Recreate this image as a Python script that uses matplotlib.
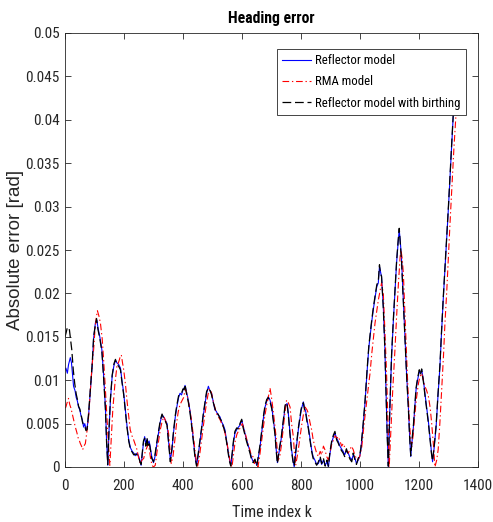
import matplotlib
matplotlib.use("Agg")
import matplotlib.pyplot as plt
from matplotlib.ticker import FuncFormatter
from matplotlib import font_manager

# ---------------- data ----------------
k_reflector = [0, 3, 8, 12, 18, 22, 26, 29, 34, 38, 42, 46, 50, 55, 59, 63, 67, 71, 75, 80,
               86, 92, 97, 103, 108, 112, 118, 125, 131, 137, 141, 145, 149, 154, 160, 166, 171, 176, 182, 188,
               193, 199, 205, 210, 216, 222, 228, 233, 238, 244, 250, 255, 258, 262, 266, 270, 274, 278, 281, 285,
               289, 294, 300, 305, 311, 317, 323, 329, 334, 340, 346, 351, 357, 362, 368, 374, 379, 385, 390, 395,
               400, 404, 407, 412, 418, 424, 429, 435, 440, 446, 451, 457, 463, 469, 475, 480, 486, 491, 497, 502,
               508, 513, 519, 525, 531, 537, 542, 548, 554, 558, 562, 567, 571, 576, 582, 588, 593, 599, 604, 610,
               615, 621, 627, 632, 638, 644, 650, 655, 661, 667, 672, 678, 684, 689, 695, 701, 706, 712, 716, 720,
               726, 730, 734, 740, 746, 750, 753, 757, 762, 768, 773, 777, 784, 791, 796, 800, 804, 808, 812, 816,
               820, 825, 830, 836, 841, 847, 853, 859, 865, 870, 876, 882, 888, 893, 898, 904, 910, 915, 921, 927,
               932, 937, 943, 948, 954, 960, 966, 972, 977, 983, 988, 994, 999, 1003, 1010, 1017, 1024, 1030, 1034, 1040,
               1045, 1051, 1057, 1062, 1066, 1070, 1073, 1079, 1084, 1088, 1092, 1096, 1101, 1107, 1113, 1119, 1124, 1130, 1133, 1137,
               1141, 1147, 1153, 1158, 1164, 1168, 1172, 1176, 1181, 1186, 1190, 1195, 1201, 1205, 1209, 1215, 1220, 1226, 1232, 1237,
               1242, 1246, 1252, 1258, 1264, 1271, 1276, 1282, 1288, 1294, 1300, 1306, 1311, 1316, 1322]
err_reflector = [0.0112, 0.0114, 0.0108, 0.0118, 0.0126, 0.0120, 0.0104, 0.0093, 0.0088, 0.0080, 0.0076, 0.0069, 0.0066, 0.0058, 0.0054, 0.0046, 0.0050, 0.0044, 0.0045, 0.0060,
                 0.0088, 0.0116, 0.0148, 0.0166, 0.0169, 0.0160, 0.0150, 0.0135, 0.0105, 0.0069, 0.0030, 0.0002, 0.0040, 0.0077, 0.0105, 0.0117, 0.0123, 0.0120, 0.0118, 0.0114,
                 0.0100, 0.0085, 0.0065, 0.0048, 0.0031, 0.0022, 0.0018, 0.0016, 0.0013, 0.0016, 0.0012, 0.0006, 0.0002, 0.0015, 0.0028, 0.0035, 0.0026, 0.0032, 0.0027, 0.0030,
                 0.0023, 0.0012, 0.0005, 0.0012, 0.0026, 0.0039, 0.0052, 0.0060, 0.0058, 0.0054, 0.0050, 0.0030, 0.0008, 0.0018, 0.0040, 0.0058, 0.0069, 0.0080, 0.0085, 0.0083,
                 0.0089, 0.0091, 0.0094, 0.0086, 0.0077, 0.0064, 0.0050, 0.0032, 0.0015, 0.0002, 0.0012, 0.0028, 0.0043, 0.0060, 0.0074, 0.0085, 0.0093, 0.0088, 0.0085, 0.0076,
                 0.0066, 0.0064, 0.0060, 0.0058, 0.0052, 0.0048, 0.0043, 0.0030, 0.0016, 0.0008, 0.0002, 0.0015, 0.0028, 0.0039, 0.0043, 0.0046, 0.0048, 0.0054, 0.0047, 0.0039,
                 0.0032, 0.0025, 0.0018, 0.0011, 0.0006, 0.0008, 0.0002, 0.0010, 0.0023, 0.0040, 0.0055, 0.0069, 0.0076, 0.0081, 0.0077, 0.0069, 0.0055, 0.0039, 0.0020, 0.0005,
                 0.0018, 0.0026, 0.0035, 0.0052, 0.0069, 0.0072, 0.0073, 0.0062, 0.0042, 0.0020, 0.0008, 0.0000, 0.0022, 0.0043, 0.0055, 0.0064, 0.0070, 0.0075, 0.0068, 0.0064,
                 0.0055, 0.0046, 0.0034, 0.0020, 0.0012, 0.0008, 0.0003, 0.0004, 0.0010, 0.0003, 0.0008, 0.0002, 0.0006, 0.0000, 0.0015, 0.0028, 0.0035, 0.0039, 0.0033, 0.0029,
                 0.0024, 0.0021, 0.0018, 0.0014, 0.0019, 0.0016, 0.0011, 0.0008, 0.0014, 0.0010, 0.0004, 0.0008, 0.0012, 0.0020, 0.0045, 0.0074, 0.0110, 0.0138, 0.0150, 0.0168,
                 0.0181, 0.0195, 0.0208, 0.0212, 0.0231, 0.0224, 0.0219, 0.0185, 0.0140, 0.0089, 0.0040, 0.0000, 0.0065, 0.0127, 0.0168, 0.0204, 0.0235, 0.0262, 0.0273, 0.0258,
                 0.0238, 0.0192, 0.0146, 0.0107, 0.0069, 0.0038, 0.0012, 0.0028, 0.0046, 0.0070, 0.0089, 0.0100, 0.0110, 0.0108, 0.0112, 0.0100, 0.0085, 0.0069, 0.0052, 0.0035,
                 0.0018, 0.0006, 0.0024, 0.0046, 0.0080, 0.0116, 0.0152, 0.0192, 0.0228, 0.0262, 0.0300, 0.0340, 0.0372, 0.0404, 0.0418]

k_rma = [0, 3, 7, 12, 16, 20, 24, 29, 35, 40, 45, 49, 52, 56, 60, 64, 69, 74, 80, 86,
         92, 97, 102, 106, 110, 115, 120, 126, 131, 136, 142, 147, 152, 157, 162, 169, 176, 183, 188, 191,
         195, 199, 205, 210, 216, 221, 227, 233, 239, 244, 250, 255, 261, 267, 272, 278, 282, 286, 290, 295,
         300, 306, 312, 318, 323, 329, 335, 340, 346, 351, 356, 360, 366, 372, 378, 384, 390, 396, 402, 408,
         413, 419, 425, 431, 437, 443, 449, 455, 461, 467, 473, 479, 485, 490, 496, 501, 507, 513, 519, 525,
         531, 537, 543, 549, 555, 560, 566, 571, 577, 583, 589, 595, 601, 607, 613, 619, 625, 631, 637, 642,
         648, 654, 659, 665, 671, 677, 683, 689, 695, 700, 706, 712, 718, 723, 728, 734, 740, 746, 751, 757,
         763, 768, 774, 778, 782, 790, 797, 803, 809, 814, 820, 825, 830, 836, 841, 847, 853, 859, 865, 870,
         876, 881, 887, 893, 899, 904, 910, 916, 921, 927, 932, 938, 943, 949, 954, 960, 966, 971, 977, 983,
         988, 992, 999, 1006, 1014, 1023, 1029, 1034, 1040, 1046, 1051, 1057, 1062, 1068, 1073, 1079, 1084, 1090, 1095, 1099,
         1105, 1111, 1118, 1124, 1130, 1136, 1139, 1143, 1147, 1152, 1158, 1163, 1167, 1171, 1175, 1180, 1184, 1191, 1198, 1203,
         1209, 1215, 1220, 1226, 1232, 1238, 1243, 1249, 1254, 1260, 1265, 1271, 1277, 1283, 1288, 1294, 1299, 1305, 1311, 1318,
         1325, 1330]
err_rma = [0.0068, 0.0069, 0.0074, 0.0079, 0.0072, 0.0068, 0.0062, 0.0055, 0.0046, 0.0040, 0.0033, 0.0030, 0.0027, 0.0024, 0.0020, 0.0024, 0.0027, 0.0040, 0.0058, 0.0088,
           0.0118, 0.0135, 0.0160, 0.0172, 0.0180, 0.0174, 0.0166, 0.0148, 0.0123, 0.0095, 0.0058, 0.0028, 0.0002, 0.0035, 0.0066, 0.0095, 0.0116, 0.0122, 0.0128, 0.0129,
           0.0120, 0.0112, 0.0095, 0.0077, 0.0058, 0.0043, 0.0036, 0.0031, 0.0025, 0.0020, 0.0010, 0.0004, 0.0008, 0.0010, 0.0018, 0.0023, 0.0026, 0.0020, 0.0010, 0.0002,
           0.0000, 0.0002, 0.0018, 0.0032, 0.0043, 0.0052, 0.0058, 0.0054, 0.0048, 0.0039, 0.0020, 0.0004, 0.0012, 0.0030, 0.0050, 0.0064, 0.0072, 0.0076, 0.0080, 0.0090,
           0.0085, 0.0074, 0.0062, 0.0048, 0.0030, 0.0012, 0.0000, 0.0010, 0.0026, 0.0042, 0.0058, 0.0072, 0.0084, 0.0090, 0.0086, 0.0078, 0.0070, 0.0062, 0.0058, 0.0055,
           0.0050, 0.0046, 0.0038, 0.0028, 0.0016, 0.0006, 0.0000, 0.0014, 0.0030, 0.0038, 0.0042, 0.0046, 0.0050, 0.0044, 0.0036, 0.0028, 0.0022, 0.0014, 0.0012, 0.0004,
           0.0008, 0.0000, 0.0010, 0.0026, 0.0042, 0.0058, 0.0070, 0.0080, 0.0091, 0.0080, 0.0064, 0.0046, 0.0026, 0.0008, 0.0012, 0.0026, 0.0045, 0.0064, 0.0077, 0.0074,
           0.0069, 0.0050, 0.0035, 0.0015, 0.0002, 0.0018, 0.0035, 0.0050, 0.0062, 0.0069, 0.0066, 0.0062, 0.0052, 0.0043, 0.0032, 0.0023, 0.0016, 0.0012, 0.0018, 0.0014,
           0.0024, 0.0020, 0.0012, 0.0008, 0.0018, 0.0026, 0.0031, 0.0036, 0.0033, 0.0035, 0.0030, 0.0024, 0.0027, 0.0022, 0.0019, 0.0016, 0.0020, 0.0024, 0.0020, 0.0013,
           0.0010, 0.0008, 0.0012, 0.0023, 0.0050, 0.0077, 0.0094, 0.0108, 0.0131, 0.0150, 0.0166, 0.0180, 0.0192, 0.0203, 0.0212, 0.0200, 0.0160, 0.0108, 0.0050, 0.0000,
           0.0045, 0.0089, 0.0132, 0.0173, 0.0210, 0.0242, 0.0250, 0.0240, 0.0223, 0.0178, 0.0127, 0.0088, 0.0054, 0.0036, 0.0023, 0.0036, 0.0054, 0.0078, 0.0096, 0.0104,
           0.0108, 0.0100, 0.0093, 0.0088, 0.0081, 0.0068, 0.0050, 0.0025, 0.0000, 0.0008, 0.0020, 0.0052, 0.0089, 0.0128, 0.0166, 0.0202, 0.0238, 0.0280, 0.0320, 0.0365,
           0.0404, 0.0422]

k_birthing = [0, 4, 8, 12, 15, 19, 23, 28, 33, 38, 42, 46, 50, 55, 59, 63, 67, 71, 75, 80,
              86, 92, 97, 103, 107, 112, 118, 125, 131, 137, 141, 145, 149, 154, 160, 166, 171, 176, 182, 188,
              193, 199, 205, 210, 216, 222, 228, 233, 238, 244, 250, 255, 258, 262, 266, 270, 274, 278, 281, 285,
              289, 294, 300, 305, 311, 317, 323, 329, 334, 340, 346, 351, 357, 362, 368, 374, 379, 385, 390, 395,
              400, 404, 407, 412, 418, 424, 429, 435, 440, 446, 451, 457, 463, 469, 475, 480, 486, 491, 497, 502,
              508, 513, 519, 525, 531, 537, 542, 548, 554, 558, 562, 567, 571, 576, 582, 588, 593, 599, 604, 610,
              615, 621, 627, 632, 638, 644, 650, 655, 661, 667, 672, 678, 684, 689, 695, 701, 706, 712, 716, 720,
              726, 730, 734, 740, 746, 750, 753, 757, 762, 768, 773, 777, 784, 791, 796, 800, 804, 808, 812, 816,
              820, 825, 830, 836, 841, 847, 853, 859, 865, 870, 876, 882, 888, 893, 898, 904, 910, 915, 921, 927,
              932, 937, 943, 948, 954, 960, 966, 972, 977, 983, 988, 994, 999, 1003, 1010, 1017, 1024, 1030, 1034, 1040,
              1045, 1051, 1057, 1062, 1066, 1070, 1073, 1079, 1084, 1088, 1092, 1096, 1101, 1107, 1113, 1119, 1124, 1130, 1133, 1137,
              1141, 1147, 1153, 1158, 1164, 1168, 1172, 1176, 1181, 1186, 1190, 1195, 1201, 1205, 1209, 1215, 1220, 1226, 1232, 1237,
              1242, 1246, 1252, 1258, 1264, 1271, 1276, 1282, 1288, 1294, 1300, 1306, 1311, 1316, 1322]
err_birthing = [0.0150, 0.0155, 0.0161, 0.0160, 0.0158, 0.0146, 0.0135, 0.0112, 0.0096, 0.0084, 0.0078, 0.0070, 0.0067, 0.0060, 0.0052, 0.0048, 0.0047, 0.0042, 0.0043, 0.0062,
                0.0090, 0.0118, 0.0150, 0.0164, 0.0171, 0.0158, 0.0148, 0.0133, 0.0102, 0.0066, 0.0028, 0.0003, 0.0042, 0.0079, 0.0106, 0.0119, 0.0124, 0.0118, 0.0116, 0.0112,
                0.0098, 0.0083, 0.0063, 0.0046, 0.0030, 0.0020, 0.0017, 0.0014, 0.0015, 0.0014, 0.0011, 0.0005, 0.0003, 0.0017, 0.0030, 0.0033, 0.0024, 0.0034, 0.0025, 0.0029,
                0.0021, 0.0010, 0.0006, 0.0014, 0.0028, 0.0041, 0.0054, 0.0061, 0.0056, 0.0053, 0.0048, 0.0028, 0.0006, 0.0020, 0.0042, 0.0060, 0.0071, 0.0082, 0.0084, 0.0085,
                0.0090, 0.0089, 0.0095, 0.0084, 0.0075, 0.0062, 0.0048, 0.0030, 0.0013, 0.0001, 0.0014, 0.0030, 0.0045, 0.0062, 0.0076, 0.0087, 0.0091, 0.0089, 0.0083, 0.0075,
                0.0068, 0.0062, 0.0061, 0.0056, 0.0053, 0.0046, 0.0041, 0.0028, 0.0014, 0.0006, 0.0001, 0.0017, 0.0030, 0.0041, 0.0045, 0.0044, 0.0050, 0.0055, 0.0045, 0.0037,
                0.0030, 0.0023, 0.0016, 0.0009, 0.0005, 0.0009, 0.0001, 0.0012, 0.0025, 0.0042, 0.0057, 0.0071, 0.0078, 0.0080, 0.0075, 0.0067, 0.0053, 0.0037, 0.0018, 0.0004,
                0.0020, 0.0028, 0.0037, 0.0054, 0.0071, 0.0074, 0.0072, 0.0060, 0.0040, 0.0018, 0.0006, 0.0001, 0.0024, 0.0045, 0.0057, 0.0066, 0.0072, 0.0074, 0.0066, 0.0062,
                0.0053, 0.0044, 0.0032, 0.0018, 0.0010, 0.0006, 0.0002, 0.0006, 0.0012, 0.0004, 0.0010, 0.0001, 0.0008, 0.0001, 0.0017, 0.0030, 0.0037, 0.0041, 0.0031, 0.0027,
                0.0022, 0.0019, 0.0016, 0.0012, 0.0021, 0.0014, 0.0009, 0.0006, 0.0016, 0.0008, 0.0003, 0.0010, 0.0014, 0.0022, 0.0047, 0.0076, 0.0112, 0.0140, 0.0152, 0.0170,
                0.0183, 0.0197, 0.0210, 0.0214, 0.0233, 0.0222, 0.0220, 0.0183, 0.0138, 0.0087, 0.0038, 0.0001, 0.0067, 0.0129, 0.0170, 0.0206, 0.0237, 0.0264, 0.0275, 0.0256,
                0.0236, 0.0190, 0.0144, 0.0105, 0.0067, 0.0036, 0.0013, 0.0030, 0.0048, 0.0072, 0.0091, 0.0102, 0.0112, 0.0106, 0.0113, 0.0098, 0.0083, 0.0067, 0.0050, 0.0033,
                0.0016, 0.0007, 0.0026, 0.0048, 0.0082, 0.0118, 0.0154, 0.0194, 0.0230, 0.0264, 0.0302, 0.0342, 0.0374, 0.0406, 0.0420]

x_ticks = [0, 200, 400, 600, 800, 1000, 1200, 1400]
y_ticks = [0, 0.005, 0.01, 0.015, 0.02, 0.025, 0.03, 0.035, 0.04, 0.045, 0.05]
series_labels = ["Reflector model", "RMA model", "Reflector model with birthing"]
title_text = "Heading error"
x_label = "Time index k"
y_label = "Absolute error [rad]"

# ---------------- fonts ----------------
installed = {f.name for f in font_manager.fontManager.ttflist}
condensed_candidates = ["Liberation Sans Narrow", "Roboto Condensed", "Arial Narrow", "Nimbus Sans Narrow"]
cond = [n for n in condensed_candidates if n in installed]
if cond:
    narrow = [cond[0], "Liberation Sans", "DejaVu Sans"]
    tick_size, leg_size, xl_size, title_size = 11, 9.2, 11.5, 11.3
else:
    narrow = ["Liberation Sans", "DejaVu Sans"]
    tick_size, leg_size, xl_size, title_size = 10, 8.6, 12, 10
regular = ["Liberation Sans", "DejaVu Sans"]

# ---------------- figure ----------------
fig = plt.figure(figsize=(4.93, 5.22), dpi=100)
ax = fig.add_axes([65 / 493, 55 / 522, 413 / 493, 434 / 522])

ax.plot(k_reflector, err_reflector, color=(0, 0, 1), lw=0.8, ls="-", label=series_labels[0])
ax.plot(k_rma, err_rma, color=(1, 0, 0), lw=0.8, ls=(0, (6, 2.5, 1.2, 2.5)), label=series_labels[1])
ax.plot(k_birthing, err_birthing, color="black", lw=0.9, ls=(0, (7, 3)), label=series_labels[2])

ax.set_xlim(0, 1400)
ax.set_ylim(0, 0.05)
ax.set_xticks(x_ticks)
ax.set_yticks(y_ticks)
ax.yaxis.set_major_formatter(FuncFormatter(lambda v, p: "%g" % round(v, 4)))

ax.tick_params(direction="in", length=4, width=0.6, top=True, right=True,
               colors="#262626", labelcolor="#262626")
ax.tick_params(axis="x", pad=9)
ax.tick_params(axis="y", pad=4)
for lab in ax.get_xticklabels() + ax.get_yticklabels():
    lab.set_fontfamily(narrow)
    lab.set_fontsize(tick_size)
for sp in ax.spines.values():
    sp.set_color("#262626")
    sp.set_linewidth(0.6)

ax.set_title(title_text, fontfamily=narrow, fontsize=title_size, fontweight="bold", pad=7)
ax.set_xlabel(x_label, fontfamily=narrow, fontsize=xl_size, color="#262626", labelpad=8)
ax.set_ylabel(y_label, fontfamily=regular, fontsize=13.5, color="#262626", labelpad=1)

leg = ax.legend(loc="upper right", bbox_to_anchor=(0.971, 0.963), frameon=True, fancybox=False,
                edgecolor="#262626", framealpha=1, borderpad=0.4, handlelength=2.25,
                handletextpad=0.35, labelspacing=0.65, borderaxespad=0,
                prop={"family": narrow, "size": leg_size})
leg.get_frame().set_linewidth(0.6)

fig.savefig("out.png", dpi=100)
